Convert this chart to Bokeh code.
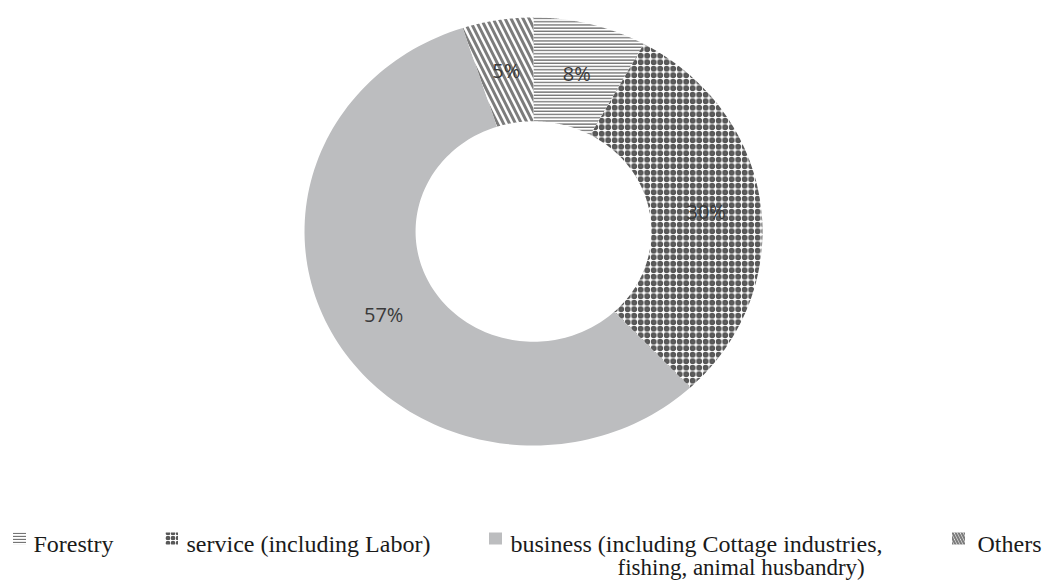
import numpy as np
from bokeh.plotting import figure
from bokeh.models import Range1d, ColumnDataSource
from bokeh.core.properties import value
from bokeh.embed import file_html
from bokeh.resources import INLINE

categories = ["Forestry", "service (including Labor)",
              "business (including Cottage industries,", "Others"]
legend_line2 = "fishing, animal husbandry)"
shares = [8, 30, 57, 5]
pct_labels = ["8%", "30%", "57%", "5%"]

W, H = 1046, 581
p = figure(width=W, height=H, output_backend="svg", toolbar_location=None,
           x_range=Range1d(0, W), y_range=Range1d(H, 0), min_border=0)
p.axis.visible = False
p.grid.visible = False
p.outline_line_color = None
p.background_fill_color = "white"

cx, cy = 533, 231
rx, ry = 229, 214
inner = 0.515

fills = ["white", "white", "#bcbdbf", "white"]
hatches = ["horizontal_line", "ring", " ", "left_diagonal_line"]
hcolors = ["#757575", "#575757", "#bcbdbf", "#7c7c7c"]
hscales = [3.2, 6.5, 1.0, 12.0]
hweights = [1.5, 2.8, 1.0, 3.0]

vals = np.array(shares, dtype=float)
frac = vals / vals.sum()
ends = np.cumsum(frac)
starts = ends - frac

xs, ys, lx, ly = [], [], [], []
for s, e in zip(starts, ends):
    t = np.linspace(s, e, 120) * 2 * np.pi
    ox = cx + rx * np.sin(t)
    oy = cy - ry * np.cos(t)
    ix = cx + rx * inner * np.sin(t[::-1])
    iy = cy - ry * inner * np.cos(t[::-1])
    xs.append(np.concatenate([ox, ix]).tolist())
    ys.append(np.concatenate([oy, iy]).tolist())
    m = (s + e) / 2 * 2 * np.pi
    lx.append(cx + rx * 0.76 * np.sin(m))
    ly.append(cy - ry * 0.76 * np.cos(m))

src = ColumnDataSource(dict(xs=xs, ys=ys, fill=fills, hatch=hatches,
                            hcolor=hcolors, hscale=hscales, hweight=hweights))
p.patches("xs", "ys", source=src, fill_color="fill", line_color=None,
          hatch_pattern="hatch", hatch_color="hcolor", hatch_scale="hscale",
          hatch_weight="hweight")

p.text(x=lx, y=ly, text=pct_labels, text_align="center", text_baseline="middle",
       text_font=value("Open Sans"), text_font_size="20px", text_color="#3a3a3a")

# legend
leg_marker_x = [19, 171, 495, 958]
leg_text_x = [33, 186, 510, 977]
leg_base = 543
leg_mid = 538
p.rect(x=leg_marker_x, y=[leg_mid] * 4, width=13, height=12,
       fill_color=fills, line_color=None,
       hatch_pattern=["horizontal_line", "ring", " ", "left_diagonal_line"],
       hatch_color=hcolors, hatch_scale=[3.0, 5.0, 1.0, 6.0],
       hatch_weight=[1.3, 2.2, 1.0, 2.2])
p.text(x=leg_text_x, y=[leg_base] * 4, text=categories, text_align="left",
       text_baseline="alphabetic", text_font=value("Liberation Serif"),
       text_font_size="24px", text_color="#1a1a1a")
p.text(x=[617], y=[567], text=[legend_line2], text_align="left",
       text_baseline="alphabetic", text_font=value("Liberation Serif"),
       text_font_size="23px", text_color="#1a1a1a")

open("out.html", "w").write(file_html(p, INLINE))
